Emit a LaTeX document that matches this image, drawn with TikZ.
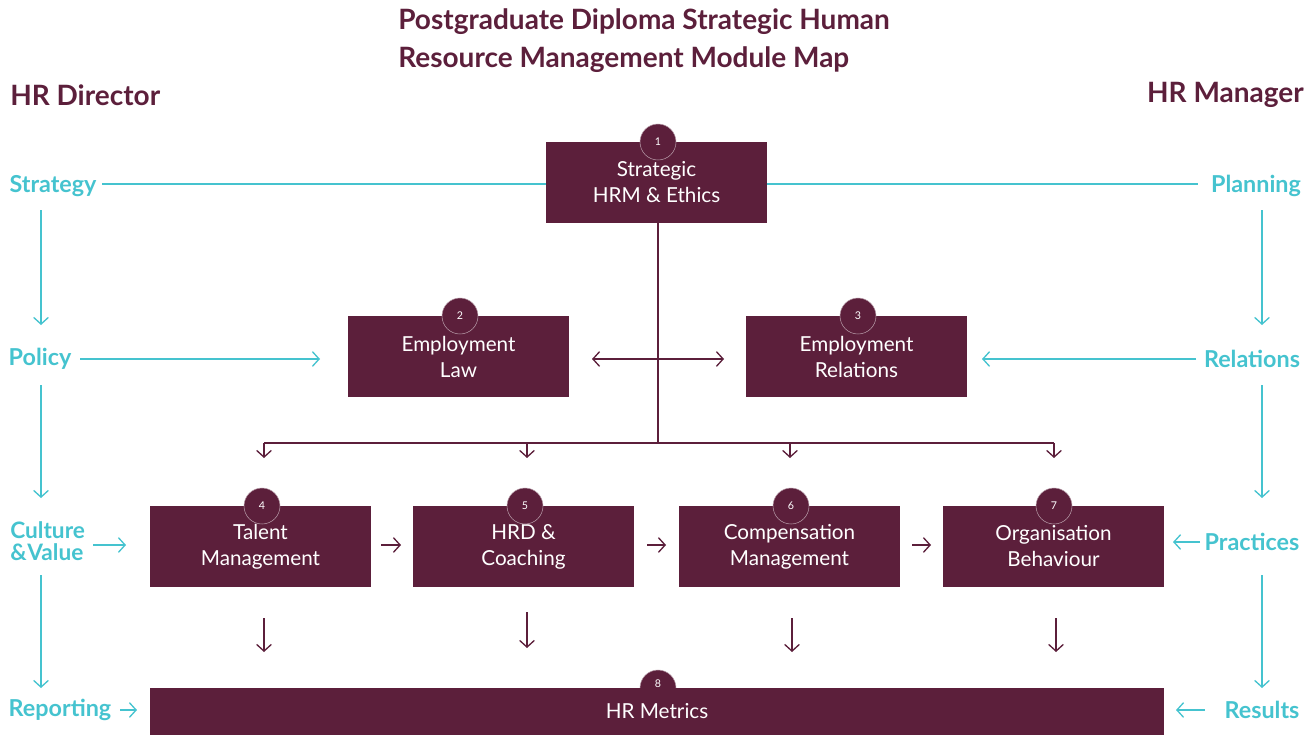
\documentclass[tikz,border=0pt]{standalone}
\usepackage{fontspec}
\setmainfont{Lato}
\usetikzlibrary{arrows.meta}
\definecolor{wine}{HTML}{5C1F3B}
\definecolor{teal}{HTML}{45C3CF}
\tikzset{
  module/.style={fill=wine, text=white, align=center, minimum width=165.75pt, minimum height=60.75pt,
    inner sep=0pt, font=\fontsize{15.5}{19.5}\selectfont},
  badge/.style={circle, fill=wine, draw=white!55!wine, line width=0.4pt, text=white, minimum size=27pt,
    inner sep=0pt, font=\fontsize{8}{9}\selectfont},
  role/.style={text=teal, font=\bfseries\fontsize{17.5}{19}\selectfont, inner sep=0pt},
  tealline/.style={draw=teal, line width=1pt, -{Straight Barb[length=5pt,width=11pt]}},
  wineline/.style={draw=wine, line width=1pt, -{Straight Barb[length=5pt,width=11pt]}},
}
\begin{document}
\begin{tikzpicture}[x=0.75pt, y=-0.75pt]
  \useasboundingbox (0,0) rectangle (1316,735);
  %%%%% headings %%%%%
  \node[anchor=west, text=wine, align=left, inner sep=0pt, font=\bfseries\fontsize{21}{28.5}\selectfont]
    (title) at (398,41) {Postgraduate Diploma Strategic Human\\Resource Management Module Map};
  \node[anchor=west, text=wine, inner sep=0pt, font=\bfseries\fontsize{21}{22}\selectfont] (dir) at (10,95) {HR Director};
  \node[anchor=east, text=wine, inner sep=0pt, font=\bfseries\fontsize{21}{22}\selectfont] (man) at (1304,95) {HR Manager};

  %%%%% maroon connectors (behind boxes) %%%%%
  \coordinate (hub) at (658,443);
  \draw[draw=wine, line width=1pt] (658,223) -- (hub);
  \draw[draw=wine, line width=1pt] (264,443) -- (1054,443);
  \foreach \xx in {264,527,790,1054}
    \draw[wineline] (\xx,443) -- (\xx,458);
  \draw[wineline, {Straight Barb[length=5pt,width=11pt]}-{Straight Barb[length=5pt,width=11pt]}] (592,359) -- (724,359);

  %%%%% modules %%%%%
  \node[badge] (b8) at (658,688) {};
  \node[module] (m1) at (656.5,182.5) {Strategic\\HRM \& Ethics};
  \node[module] (m2) at (458.5,356.5) {Employment\\Law};
  \node[module] (m3) at (856.5,356.5) {Employment\\Relations};
  \node[module] (m4) at (260.5,546.5) {Talent\\Management};
  \node[module] (m5) at (523.5,546.5) {HRD \&\\Coaching};
  \node[module] (m6) at (789.5,546.5) {Compensation\\Management};
  \node[module] (m7) at (1053.5,546.5) {Organisation\\Behaviour};
  \node[module, minimum width=760.5pt, minimum height=35.25pt] (m8) at (657,711.5) {HR Metrics};

  %%%%% numbers %%%%%
  \node[badge] (b1) at (658,142) {1};
  \node[badge] (b2) at (460,316) {2};
  \node[badge] (b3) at (858,316) {3};
  \node[badge] (b4) at (262,506) {4};
  \node[badge] (b5) at (525,506) {5};
  \node[badge] (b6) at (791,506) {6};
  \node[badge] (b7) at (1054,506) {7};
  \node[text=white, inner sep=0pt, font=\fontsize{8}{9}\selectfont] (n8) at (658,684) {8};

  %%%%% flow between modules %%%%%
  \draw[wineline] (381,545) -- (401,545);
  \draw[wineline] (647,545) -- (666,545);
  \draw[wineline] (912,545) -- (931,545);
  \draw[wineline] (264,618) -- (264,652);
  \draw[wineline] (527,612) -- (527,648);
  \draw[wineline] (792,618) -- (792,652);
  \draw[wineline] (1056,618) -- (1056,652);

  %%%%% director side %%%%%
  \node[role] (strategy) at (53,186) {Strategy};
  \node[role] (policy) at (40,359) {Policy};
  \node[role, anchor=west, align=left, font=\bfseries\fontsize{17}{17}\selectfont] (culture) at (10,541) {Culture\\\&\kern0.5pt Value};
  \node[role] (reporting) at (60,710) {Reporting};
  \draw[draw=teal, line width=1pt] (102,184) -- (m1.west |- 0,184);
  \draw[tealline] (41,210) -- (41,325);
  \draw[tealline] (80,359) -- (320,359);
  \draw[tealline] (41,385) -- (41,498);
  \draw[tealline] (93,545) -- (126,545);
  \draw[tealline] (41,575) -- (41,688);
  \draw[tealline] (120,710) -- (137,710);

  %%%%% manager side %%%%%
  \node[role] (planning) at (1256,186) {Planning};
  \node[role] (relations) at (1252,359) {Relations};
  \node[role] (practices) at (1252,542) {Practices};
  \node[role] (results) at (1262,710) {Results};
  \draw[draw=teal, line width=1pt] (m1.east |- 0,184) -- (1198,184);
  \draw[tealline] (1262,210) -- (1262,325);
  \draw[tealline] (1196,359) -- (982,359);
  \draw[tealline] (1262,385) -- (1262,498);
  \draw[tealline] (1200,542) -- (1173,542);
  \draw[tealline] (1262,575) -- (1262,688);
  \draw[tealline] (1205,710) -- (1176,710);
\end{tikzpicture}
\end{document}
